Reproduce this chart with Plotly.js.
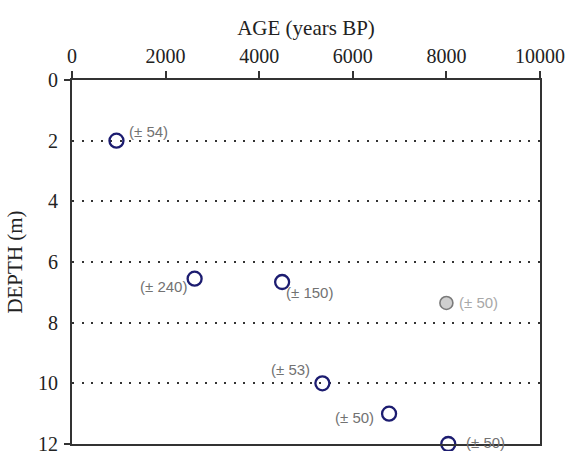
<!DOCTYPE html>
<html><head><meta charset="utf-8">
<script src="https://cdn.plot.ly/plotly-3.0.1.min.js"></script>
<style>html,body{margin:0;padding:0;background:#fff}#c{width:577px;height:451px}</style>
</head><body><div id="c"></div>
<script>
const ages = [950, 2620, 4490, 5350, 6775, 8040];
const depths = [2.0, 6.55, 6.66, 10.0, 11.0, 12.0];
const errors = ["(± 54)", "(± 240)", "(± 150)", "(± 53)", "(± 50)", "(± 50)"];
const greyAge = [8000];
const greyDepth = [7.35];
const greyError = ["(± 50)"];
const xTicks = [0, 2000, 4000, 6000, 8000, 10000];
const yTicks = [0, 2, 4, 6, 8, 10, 12];
const yEndTicks = [0, 12];

// label placement per point (ax, ay offsets in px)
const offs = [[32,-9],[-31,8],[27,10],[-32,-14],[-35,4],[37,-2]];

const annFont = 'Liberation Sans, Arial, sans-serif';
const annotations = errors.map((t,i)=>({
  x: ages[i], y: depths[i], text: t, showarrow: true, arrowcolor:'rgba(0,0,0,0)',
  ax: offs[i][0], ay: offs[i][1], font:{family:annFont, size:15, color:'#727272'}
}));
annotations.push({x: greyAge[0], y: greyDepth[0], text: greyError[0], showarrow:true, arrowcolor:'rgba(0,0,0,0)',
  ax: 32, ay: 0, font:{family:annFont, size:15, color:'#a8a8a8'}});

const data = [
  {x: ages, y: depths, mode:'markers', type:'scatter', cliponaxis:false,
   marker:{symbol:'circle-open', size:14, color:'#1c1c70', line:{width:2.3, color:'#1c1c70'}}},
  {x: greyAge, y: greyDepth, mode:'markers', type:'scatter', cliponaxis:false,
   marker:{symbol:'circle', size:13, color:'#cfcfcf', line:{width:1.6, color:'#7a7a7a'}}}
];

const serif = 'Liberation Serif, Times New Roman, serif';
const layout = {
  width:577, height:451, showlegend:false,
  paper_bgcolor:'#fff', plot_bgcolor:'#fff',
  margin:{l:72, r:37, t:80, b:7},
  font:{family:serif, size:20, color:'#222'},
  xaxis:{side:'top', range:[0,10000], tickvals:xTicks, ticktext:xTicks.map(String),
    showline:true, linecolor:'#333', linewidth:2, mirror:true, showgrid:false, zeroline:false,
    ticks:'outside', ticklen:7, tickwidth:2, tickcolor:'#333',
    tickfont:{family:serif, size:20, color:'#222'},
    title:{text:'AGE (years BP)', font:{family:serif, size:21, color:'#222'}, standoff:4}},
  yaxis:{range:[12,0], tickvals:yTicks, ticktext:yTicks.map(String),
    showline:true, linecolor:'#333', linewidth:2, mirror:true, zeroline:false,
    showgrid:true, gridcolor:'#333', gridwidth:2, griddash:'2px,7.5px',
    ticks:'', ticklabelstandoff:8, ticklabeloverflow:'allow',
    tickfont:{family:serif, size:20, color:'#222'},
    title:{text:'DEPTH (m)', font:{family:serif, size:21, color:'#222'}, standoff:10}},
  yaxis2:{overlaying:'y', range:[12,0], tickvals:yEndTicks, showticklabels:false,
    ticks:'outside', ticklen:7, tickwidth:2, tickcolor:'#333', showgrid:false, zeroline:false, showline:false},
  annotations: annotations
};
data.push({x:[], y:[], yaxis:'y2', type:'scatter', mode:'markers', hoverinfo:'skip'});
Plotly.newPlot('c', data, layout, {displayModeBar:false, staticPlot:true});
</script></body></html>
